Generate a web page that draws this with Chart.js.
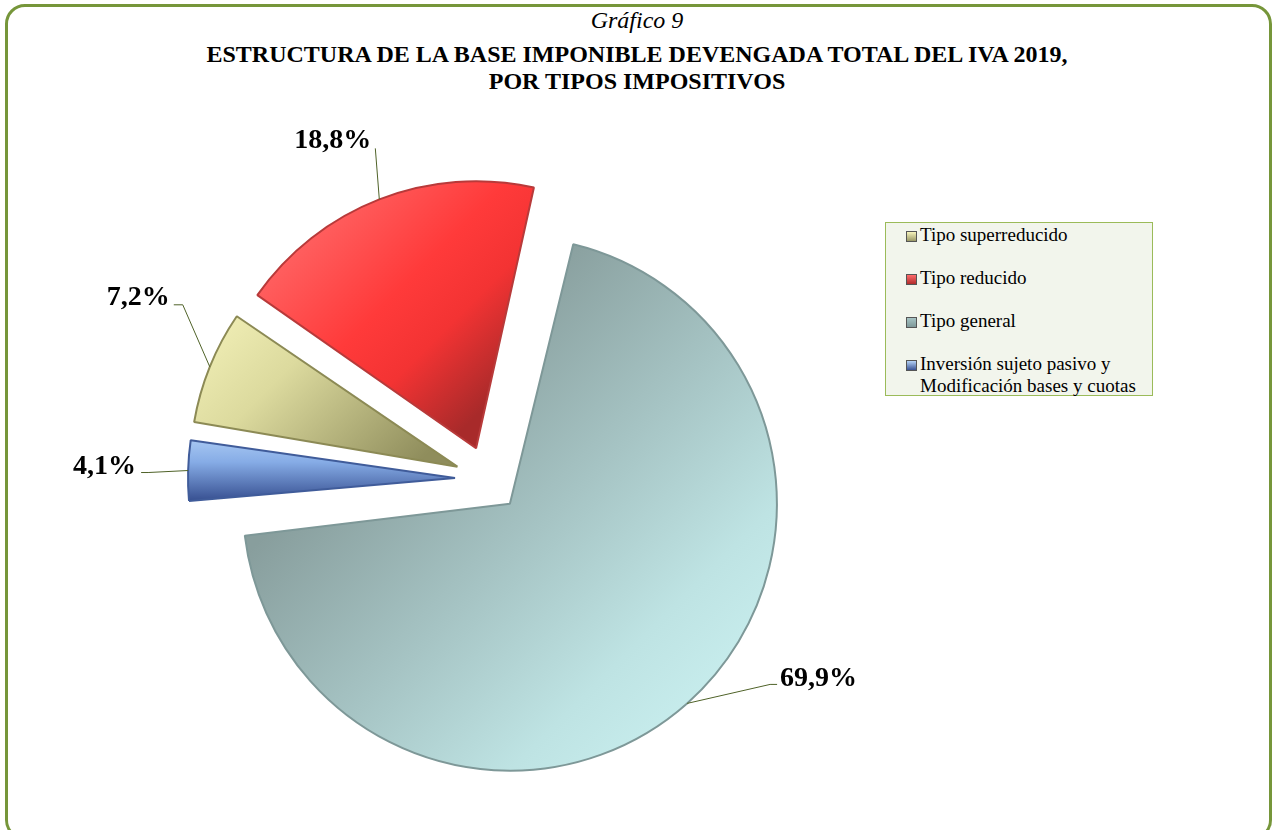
<!DOCTYPE html>
<html lang="es">
<head>
  <meta charset="UTF-8">
  <title>Gráfico 9 - Base imponible IVA 2019</title>
  <script src="https://cdn.jsdelivr.net/npm/chart.js"></script>
  <style>
    body { margin: 0; background: #fff; font-family: "Liberation Serif", "Times New Roman", serif; }
    #wrap { position: relative; width: 1274px; height: 830px; overflow: hidden; }
    #frame { position: absolute; left: 5px; top: 4px; width: 1267px; height: 836px; box-sizing: border-box;
             border: 3px solid #76963A; border-radius: 20px; }
    .t { position: absolute; left: 0; width: 1274px; text-align: center; color: #000; white-space: nowrap; }
    #t1 { top: 7px; font-size: 24px; line-height: 26px; font-style: italic; }
    #t2 { top: 41px; font-size: 24px; line-height: 26px; font-weight: bold; }
    #t3 { top: 68px; font-size: 24px; line-height: 26px; font-weight: bold; }
    canvas { position: absolute; left: 0; top: 0; }
    #legend { position: absolute; left: 885px; top: 222px; width: 268px; height: 174px; box-sizing: border-box;
              border: 1px solid #9BBB59; background: #F2F5EC; padding: 1px 4px 0 20px; font-size: 19px; }
    .item { display: flex; align-items: flex-start; line-height: 22px; margin-bottom: 21px; }
    .sw { width: 9px; height: 9px; margin: 7px 3px 0 0; flex: none; border: 1px solid #555; }
  </style>
</head>
<body>
<div id="wrap">
  <div id="frame"></div>
  <div class="t" id="t1">Gráfico 9</div>
  <div class="t" id="t2">ESTRUCTURA DE LA BASE IMPONIBLE DEVENGADA TOTAL DEL IVA 2019,</div>
  <div class="t" id="t3">POR TIPOS IMPOSITIVOS</div>
  <canvas id="pie" width="1274" height="830"></canvas>
  <div id="legend"></div>
</div>

<script>
  // datos (% sobre el total)
  const categories = ['Tipo superreducido', 'Tipo reducido', 'Tipo general',
                      'Inversión sujeto pasivo y Modificación bases y cuotas'];
  const shares = [7.2, 18.8, 69.9, 4.1];

  // estilo de cada sector
  const gradDirs = [[-1, -1, 1, 1], [-1, -1, 1, 1], [-1, -1, 1, 1], [0, -1, 0, 1]];
  const gradStops = [
    [[0.10, '#F6F4BC'], [0.25, '#DCDA9E'], [0.46, '#8F8D5C']],
    [[0.10, '#FF6B6B'], [0.28, '#FF3A3A'], [0.36, '#F33333'], [0.47, '#A82A2A']],
    [[0.30, '#889E9D'], [0.55, '#A6C4C4'], [0.75, '#BEE3E3'], [0.95, '#CDF3F3']],
    [[0.41, '#B5D3F7'], [0.47, '#86ACE6'], [0.54, '#3A5394']]
  ];
  const borders = ['#8C8A55', '#B83A3A', '#7E9898', '#405C9A'];
  const swatches = ['linear-gradient(#F6F4BC,#9A9866)', 'linear-gradient(#FF6B6B,#B02C2C)',
                    'linear-gradient(#A6C4C4,#7E9898)', 'linear-gradient(#B5D3F7,#3A5394)'];
  // codo de la línea guía respecto al borde del sector, cola y texto respecto al codo
  const labelLayout = [
    { dx: -27, dy: -62, tail: -9, tx: -13, ty: -7, align: 'right' },
    { dx: -4,  dy: -51, tail: 0,  tx: -4,  ty: -8, align: 'right' },
    { dx: 83,  dy: -19, tail: 7,  tx: 10,  ty: -6, align: 'left' },
    { dx: -40, dy: 2,   tail: -7, tx: -12, ty: -6, align: 'right' }
  ];

  const RADIUS = 267;
  const EXPLODE = 33;

  function sliceFill(context) {
    const i = context.dataIndex;
    const chart = context.chart;
    const a = chart.chartArea;
    if (!a) return gradStops[i][1][1];
    const cx = (a.left + a.right) / 2, cy = (a.top + a.bottom) / 2;
    const d = gradDirs[i];
    const g = chart.ctx.createLinearGradient(cx + d[0] * RADIUS, cy + d[1] * RADIUS,
                                             cx + d[2] * RADIUS, cy + d[3] * RADIUS);
    gradStops[i].forEach(s => g.addColorStop(s[0], s[1]));
    return g;
  }

  // Chart.js agranda el radio de los sectores desplazados; se compensa aquí
  const radiusFix = {
    id: 'radiusFix',
    afterDatasetsUpdate(chart) {
      chart.getDatasetMeta(0).data.forEach(arc => {
        const off = (arc.options.offset || 0) / 4;
        const fix = 1 - Math.sin(Math.min(Math.PI, arc.circumference));
        arc.outerRadius = RADIUS - off * fix;
      });
    }
  };

  const pctLabels = {
    id: 'pctLabels',
    afterDatasetsDraw(chart) {
      const ctx = chart.ctx;
      chart.getDatasetMeta(0).data.forEach((arc, i) => {
        const mid = (arc.startAngle + arc.endAngle) / 2;
        const dist = EXPLODE + RADIUS;
        const ex = arc.x + Math.cos(mid) * dist;
        const ey = arc.y + Math.sin(mid) * dist;
        const L = labelLayout[i];
        const bx = ex + L.dx, by = ey + L.dy;
        ctx.save();
        ctx.strokeStyle = '#4F6228';
        ctx.lineWidth = 1;
        ctx.beginPath();
        ctx.moveTo(ex, ey);
        ctx.lineTo(bx, by);
        ctx.lineTo(bx + L.tail, by);
        ctx.stroke();
        ctx.fillStyle = '#000';
        ctx.font = 'bold 28px "Liberation Serif", "Times New Roman", serif';
        ctx.textAlign = L.align;
        ctx.textBaseline = 'middle';
        ctx.fillText(shares[i].toFixed(1).replace('.', ',') + '%', bx + L.tx, by + L.ty);
        ctx.restore();
      });
    }
  };

  new Chart(document.getElementById('pie'), {
    type: 'pie',
    data: {
      labels: categories,
      datasets: [{
        data: shares,
        backgroundColor: sliceFill,
        borderColor: borders,
        borderWidth: 2,
        offset: EXPLODE * 4
      }]
    },
    options: {
      responsive: false,
      animation: false,
      rotation: 279,
      radius: RADIUS,
      layout: { padding: { left: 0, right: 298, top: 128, bottom: 0 } },
      plugins: { legend: { display: false }, tooltip: { enabled: false }, title: { display: false } }
    },
    plugins: [radiusFix, pctLabels]
  });

  // leyenda
  const legend = document.getElementById('legend');
  categories.forEach((c, i) => {
    const it = document.createElement('div');
    it.className = 'item';
    const sw = document.createElement('span');
    sw.className = 'sw';
    sw.style.background = swatches[i];
    const tx = document.createElement('span');
    tx.textContent = c;
    it.appendChild(sw);
    it.appendChild(tx);
    legend.appendChild(it);
  });
</script>
</body>
</html>
